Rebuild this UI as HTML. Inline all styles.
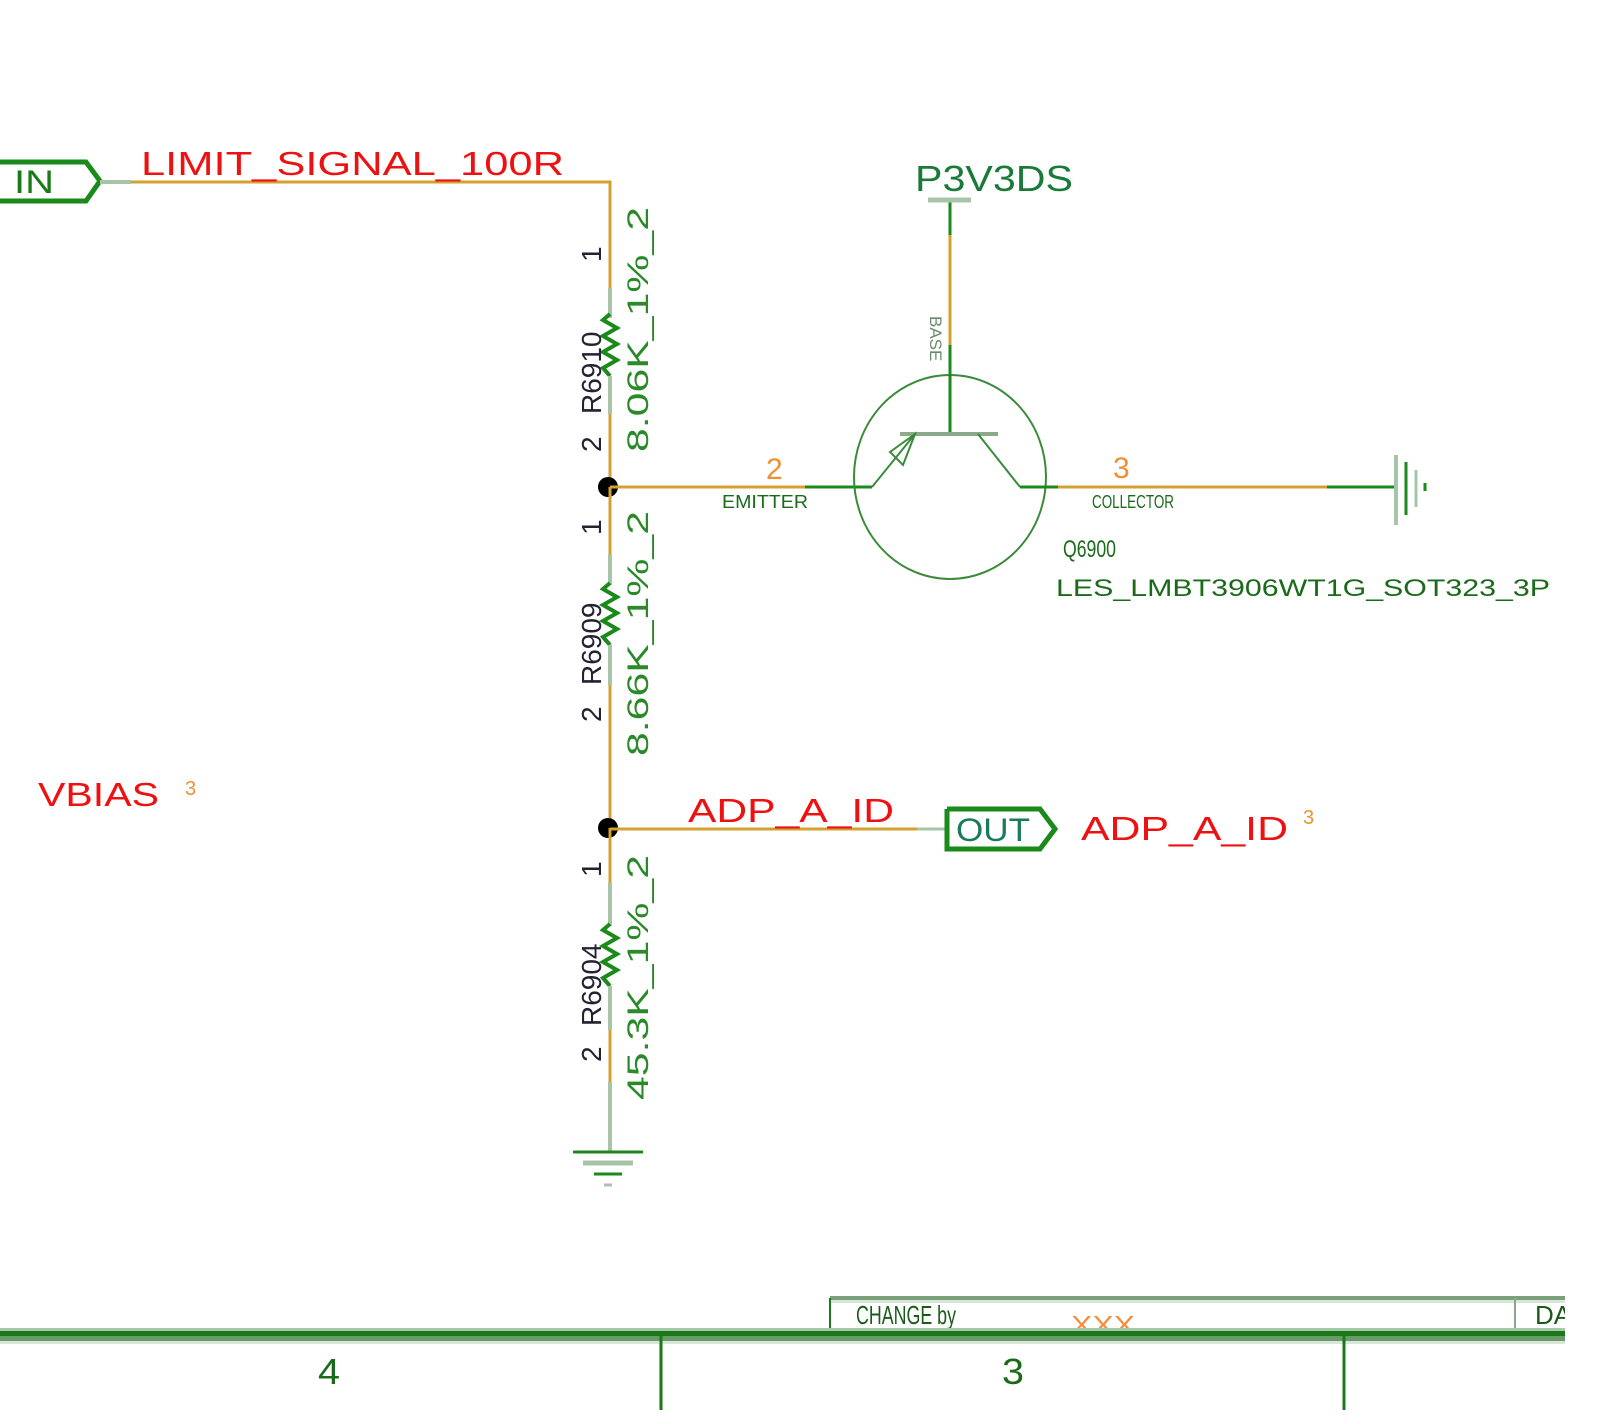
<!DOCTYPE html>
<html><head><meta charset="utf-8"><style>
html,body{margin:0;padding:0;background:#fff;}
svg{display:block;}
text{font-family:"Liberation Sans",sans-serif;}
</style></head><body>
<svg width="1600" height="1424" viewBox="0 0 1600 1424" xmlns="http://www.w3.org/2000/svg">
<!-- IN port -->
<polyline points="0,162 86,162 100,181 86,201 0,201" fill="none" stroke="#1a8a1a" stroke-width="5"/>
<text x="14" y="193" font-size="32" fill="#1a7a1a" textLength="40" lengthAdjust="spacingAndGlyphs">IN</text>
<line x1="100" y1="182" x2="131" y2="182" stroke="#a8c4a8" stroke-width="4"/>
<!-- LIMIT net -->
<polyline points="131,182 610,182 610,318" fill="none" stroke="#d4a030" stroke-width="3"/>
<text x="141" y="175" font-size="33" fill="#ee1111" textLength="423" lengthAdjust="spacingAndGlyphs">LIMIT_SIGNAL_100R</text>

<!-- R6910 -->
<line x1="610" y1="288" x2="610" y2="318" stroke="#a8c4a8" stroke-width="4"/>
<polyline points="610,314 603,320 617,328 603,336 617,344 603,352 617,360 603,368 610,376" fill="none" stroke="#1a8a1a" stroke-width="4"/>
<line x1="610" y1="376" x2="610" y2="414" stroke="#a8c4a8" stroke-width="4"/>
<line x1="610" y1="414" x2="610" y2="487" stroke="#d4a030" stroke-width="3"/>
<text transform="translate(601,262) rotate(-90)" font-size="28" fill="#223">1</text>
<text transform="translate(601,452) rotate(-90)" font-size="28" fill="#223">2</text>
<text transform="translate(601,414) rotate(-90)" font-size="28" fill="#223">R6910</text>
<text transform="translate(648,452) rotate(-90)" font-size="30" fill="#2a8a2a" textLength="245" lengthAdjust="spacingAndGlyphs">8.06K_1%_2</text>

<circle cx="608" cy="487" r="10" fill="#000"/>

<!-- R6909 -->
<line x1="610" y1="487" x2="610" y2="555" stroke="#d4a030" stroke-width="3"/>
<line x1="610" y1="555" x2="610" y2="585" stroke="#a8c4a8" stroke-width="4"/>
<polyline points="610,583 603,589 617,597 603,605 617,613 603,621 617,629 603,637 610,645" fill="none" stroke="#1a8a1a" stroke-width="4"/>
<line x1="610" y1="645" x2="610" y2="685" stroke="#a8c4a8" stroke-width="4"/>
<line x1="610" y1="685" x2="610" y2="828" stroke="#d4a030" stroke-width="3"/>
<text transform="translate(601,535) rotate(-90)" font-size="28" fill="#223">1</text>
<text transform="translate(601,722) rotate(-90)" font-size="28" fill="#223">2</text>
<text transform="translate(601,685) rotate(-90)" font-size="28" fill="#223">R6909</text>
<text transform="translate(648,756) rotate(-90)" font-size="30" fill="#2a8a2a" textLength="245" lengthAdjust="spacingAndGlyphs">8.66K_1%_2</text>

<circle cx="608" cy="828" r="10" fill="#000"/>

<!-- R6904 -->
<line x1="610" y1="828" x2="610" y2="883" stroke="#d4a030" stroke-width="3"/>
<line x1="610" y1="883" x2="610" y2="926" stroke="#a8c4a8" stroke-width="4"/>
<polyline points="610,924 603,930 617,938 603,946 617,954 603,962 617,970 603,978 610,986" fill="none" stroke="#1a8a1a" stroke-width="4"/>
<line x1="610" y1="986" x2="610" y2="1030" stroke="#a8c4a8" stroke-width="4"/>
<line x1="610" y1="1030" x2="610" y2="1082" stroke="#d4a030" stroke-width="3"/>
<line x1="610" y1="1082" x2="610" y2="1152" stroke="#a8c4a8" stroke-width="4"/>
<text transform="translate(601,877) rotate(-90)" font-size="28" fill="#223">1</text>
<text transform="translate(601,1062) rotate(-90)" font-size="28" fill="#223">2</text>
<text transform="translate(601,1026) rotate(-90)" font-size="28" fill="#223">R6904</text>
<text transform="translate(648,1100) rotate(-90)" font-size="30" fill="#2a8a2a" textLength="245" lengthAdjust="spacingAndGlyphs">45.3K_1%_2</text>
<!-- ground -->
<line x1="573" y1="1152" x2="643" y2="1152" stroke="#1a8a1a" stroke-width="3"/>
<line x1="583" y1="1163" x2="633" y2="1163" stroke="#a8c4a8" stroke-width="5"/>
<line x1="594" y1="1174" x2="622" y2="1174" stroke="#1a8a1a" stroke-width="3"/>
<line x1="604" y1="1185" x2="612" y2="1185" stroke="#a8c4a8" stroke-width="3"/>

<!-- emitter wire -->
<line x1="610" y1="487" x2="805" y2="487" stroke="#d4a030" stroke-width="3"/>
<line x1="805" y1="487" x2="872" y2="487" stroke="#1a8a1a" stroke-width="3"/>
<text x="766" y="479" font-size="30" fill="#f09030">2</text>
<text x="722" y="508" font-size="18" fill="#1a6a1a" textLength="86" lengthAdjust="spacingAndGlyphs">EMITTER</text>

<!-- transistor -->
<ellipse cx="950" cy="477" rx="96" ry="102" fill="none" stroke="#3a8a3a" stroke-width="2"/>
<line x1="950" y1="200" x2="950" y2="235" stroke="#1a8a1a" stroke-width="3"/>
<line x1="950" y1="235" x2="950" y2="345" stroke="#d4a030" stroke-width="3"/>
<line x1="950" y1="345" x2="950" y2="434" stroke="#1a8a1a" stroke-width="3"/>
<line x1="928" y1="200" x2="971" y2="200" stroke="#a8c4a8" stroke-width="5"/>
<text x="915" y="191" font-size="36" fill="#1a7a3a" textLength="158" lengthAdjust="spacingAndGlyphs">P3V3DS</text>
<text transform="translate(930,316) rotate(90)" font-size="17" fill="#6a8a6a">BASE</text>
<line x1="900" y1="434" x2="998" y2="434" stroke="#8aaa8a" stroke-width="4"/>
<line x1="872" y1="487" x2="915" y2="434" stroke="#3a8a3a" stroke-width="2"/>
<polygon points="915,434 890,452 903,465" fill="none" stroke="#3a8a3a" stroke-width="2"/>
<line x1="978" y1="434" x2="1020" y2="487" stroke="#3a8a3a" stroke-width="2"/>

<!-- collector wire -->
<line x1="1020" y1="487" x2="1058" y2="487" stroke="#1a8a1a" stroke-width="3"/>
<line x1="1058" y1="487" x2="1327" y2="487" stroke="#d4a030" stroke-width="3"/>
<line x1="1327" y1="487" x2="1396" y2="487" stroke="#1a8a1a" stroke-width="3"/>
<line x1="1396" y1="455" x2="1396" y2="525" stroke="#a8c4a8" stroke-width="4"/>
<line x1="1406" y1="462" x2="1406" y2="515" stroke="#1a8a1a" stroke-width="3"/>
<line x1="1416" y1="470" x2="1416" y2="507" stroke="#a8c4a8" stroke-width="3"/>
<line x1="1425" y1="483" x2="1425" y2="491" stroke="#1a8a1a" stroke-width="3"/>
<text x="1113" y="478" font-size="30" fill="#f09030">3</text>
<text x="1092" y="508" font-size="18" fill="#1a6a1a" textLength="82" lengthAdjust="spacingAndGlyphs">COLLECTOR</text>
<text x="1063" y="557" font-size="24" fill="#1a6a1a" textLength="53" lengthAdjust="spacingAndGlyphs">Q6900</text>
<text x="1056" y="596" font-size="24" fill="#1a6a1a" textLength="494" lengthAdjust="spacingAndGlyphs">LES_LMBT3906WT1G_SOT323_3P</text>

<!-- ADP_A_ID -->
<line x1="610" y1="829" x2="917" y2="829" stroke="#d4a030" stroke-width="3"/>
<line x1="917" y1="829" x2="947" y2="829" stroke="#a8c4a8" stroke-width="3"/>
<text x="688" y="822" font-size="33" fill="#ee1111" textLength="206" lengthAdjust="spacingAndGlyphs">ADP_A_ID</text>
<polyline points="947,809 1040,809 1055,829 1040,849 947,849 947,809" fill="none" stroke="#1a8a1a" stroke-width="5"/>
<text x="956" y="841" font-size="32" fill="#1a7a5a" textLength="74" lengthAdjust="spacingAndGlyphs">OUT</text>
<text x="1081" y="840" font-size="33" fill="#ee1111" textLength="207" lengthAdjust="spacingAndGlyphs">ADP_A_ID</text>
<text x="1303" y="824" font-size="20" fill="#f09030">3</text>

<!-- VBIAS -->
<text x="38" y="806" font-size="33" fill="#ee1111" textLength="121" lengthAdjust="spacingAndGlyphs">VBIAS</text>
<text x="185" y="795" font-size="20" fill="#f09030">3</text>

<!-- title block -->
<rect x="830" y="1296" width="735" height="4" fill="#7aa07a"/>
<rect x="830" y="1300" width="735" height="3" fill="#d8e6d8"/>
<line x1="830" y1="1298" x2="830" y2="1335" stroke="#1a7a1a" stroke-width="2"/>
<line x1="1515" y1="1298" x2="1515" y2="1335" stroke="#8aaa8a" stroke-width="2"/>
<text x="856" y="1324" font-size="26" fill="#1a5a1a" textLength="100" lengthAdjust="spacingAndGlyphs">CHANGE by</text>
<text x="1071" y="1334" font-size="26" fill="#f09040" textLength="64" lengthAdjust="spacingAndGlyphs">XXX</text>
<text x="1535" y="1324" font-size="26" fill="#1a5a1a">DA</text>
<rect x="0" y="1328" width="1565" height="3" fill="#a8c8a8"/>
<rect x="0" y="1331" width="1565" height="5" fill="#1a7a1a"/>
<rect x="0" y="1336" width="1565" height="5" fill="#6a9a6a"/>
<rect x="0" y="1341" width="1565" height="3" fill="#d8e6d8"/>
<line x1="661" y1="1333" x2="661" y2="1410" stroke="#1a7a1a" stroke-width="3"/>
<line x1="1344" y1="1333" x2="1344" y2="1410" stroke="#1a7a1a" stroke-width="3"/>
<text x="318" y="1384" font-size="36" fill="#1a6a1a" textLength="22" lengthAdjust="spacingAndGlyphs">4</text>
<text x="1002" y="1384" font-size="36" fill="#1a6a1a" textLength="22" lengthAdjust="spacingAndGlyphs">3</text>
<rect x="1565" y="1290" width="35" height="134" fill="#fff"/>
</svg>
</body></html>
